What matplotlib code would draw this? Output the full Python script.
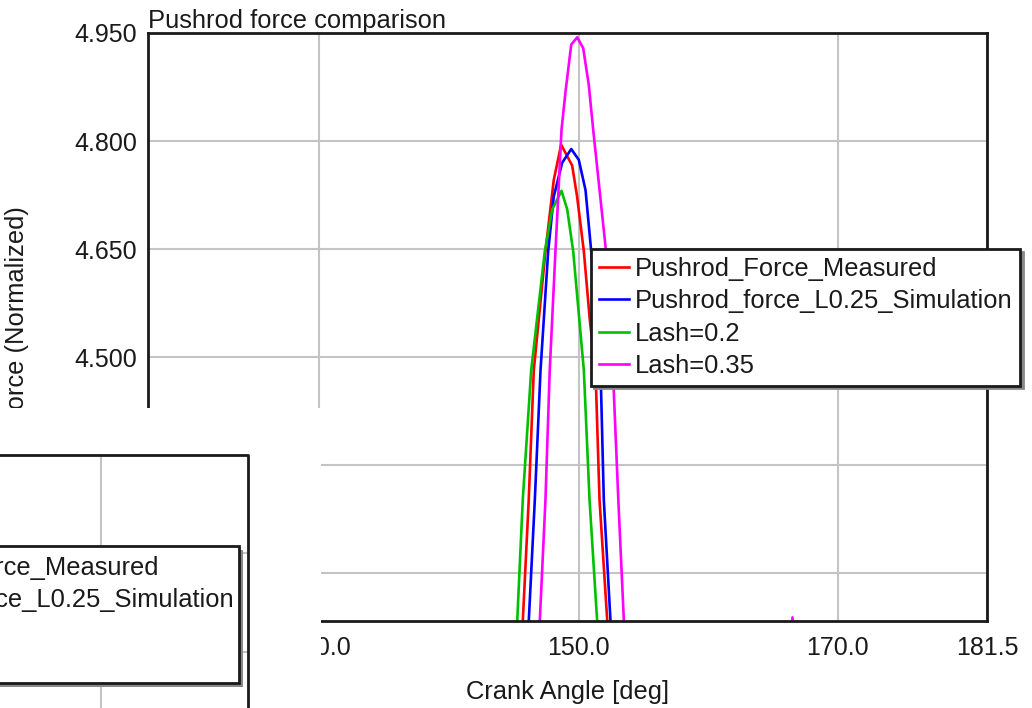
import matplotlib.pyplot as plt
from matplotlib.patches import Rectangle

# Crank angle [deg] and normalized pushrod force around the peak of the lift event
angle_measured = [145.30, 145.70, 146.16, 146.55, 147.45, 148.09, 148.66, 149.13, 149.51, 149.89, 150.41, 150.87, 151.31, 151.62, 152.22, 152.60]
force_measured = [3.950, 4.133, 4.302, 4.482, 4.647, 4.746, 4.795, 4.779, 4.766, 4.723, 4.647, 4.552, 4.482, 4.302, 4.133, 3.950]

angle_sim = [145.80, 146.16, 146.63, 147.07, 147.66, 148.09, 148.74, 149.44, 150.02, 150.54, 150.98, 151.70, 151.95, 152.47, 152.85]
force_sim = [3.950, 4.133, 4.302, 4.482, 4.647, 4.723, 4.770, 4.789, 4.774, 4.732, 4.647, 4.482, 4.302, 4.133, 3.950]

angle_lash02 = [144.90, 145.27, 145.70, 146.35, 147.40, 147.97, 148.69, 149.13, 149.59, 150.41, 150.85, 151.44, 151.85]
force_lash02 = [3.950, 4.133, 4.302, 4.482, 4.647, 4.705, 4.731, 4.705, 4.647, 4.482, 4.302, 4.133, 3.950]

angle_lash035 = [146.70, 147.01, 147.45, 147.78, 148.22, 148.69, 149.00, 149.44, 149.90, 150.36, 150.79, 151.13, 152.08, 152.65, 153.07, 153.50, 153.90,
                 166.20, 166.50, 166.80]
force_lash035 = [3.950, 4.133, 4.302, 4.482, 4.647, 4.816, 4.869, 4.934, 4.944, 4.929, 4.878, 4.816, 4.654, 4.482, 4.302, 4.133, 3.950,
                 3.950, 4.139, 3.950]

series_labels = ["Pushrod_Force_Measured", "Pushrod_force_L0.25_Simulation", "Lash=0.2", "Lash=0.35"]
series_colors = ["#ff0000", "#0000ff", "#00c000", "#ff00ff"]

x_min, x_max = 116.8, 181.5
y_min, y_max = 4.134, 4.950
x_ticks = [130.0, 150.0, 170.0, 181.5]
y_ticks = [4.200, 4.350, 4.500, 4.650, 4.800, 4.950]

W, H = 1032, 708
FS = 18.4
INK = '#1a1a1a'
GRID = '#c4c4c4'

plt.rcParams['font.family'] = ['Liberation Sans', 'DejaVu Sans']
fig = plt.figure(figsize=(W / 100, H / 100), dpi=100)
fig.patch.set_facecolor('white')

ax = fig.add_axes([148 / W, (H - 621) / H, (987 - 148) / W, (621 - 33) / H])
curves = [(angle_measured, force_measured), (angle_sim, force_sim),
          (angle_lash02, force_lash02), (angle_lash035, force_lash035)]
for (xs, ys), lab, col in zip(curves, series_labels, series_colors):
    ax.plot(xs, ys, color=col, lw=1.9, label=lab)

ax.set_xlim(x_min, x_max)
ax.set_ylim(y_min, y_max)
ax.set_xticks(x_ticks)
ax.set_xticklabels([f"{v:.1f}" for v in x_ticks])
ax.set_yticks(y_ticks)
ax.set_yticklabels([f"{v:.3f}" for v in y_ticks])
ax.tick_params(length=0, labelsize=18, colors=INK)
ax.tick_params(axis='y', pad=8)
ax.tick_params(axis='x', pad=11)
ax.grid(True, color=GRID, lw=1.5)
ax.set_axisbelow(True)
for s in ax.spines.values():
    s.set_color(INK)
    s.set_linewidth(2)

ax.set_title("Pushrod force comparison", loc='left', fontsize=FS, pad=2, color=INK)
ax.set_xlabel("Crank Angle [deg]", fontsize=FS, labelpad=14, color=INK)
ax.set_ylabel("Force (Normalized)", fontsize=FS, color=INK)
ax.yaxis.set_label_coords(-0.142, 0.52)

leg = ax.legend(loc='upper left', bbox_to_anchor=((591 - 148) / 839, (621 - 249) / 588),
                borderaxespad=0, fontsize=FS, fancybox=False, shadow={'color': '#888888', 'alpha': 1},
                framealpha=1, edgecolor=INK, handlelength=1.2, handletextpad=0.2,
                labelspacing=0.33, borderpad=0.3)
leg.get_frame().set_linewidth(2)
for t in leg.get_texts():
    t.set_color(INK)

# second plot window overlapping the lower-left corner
ov = fig.add_axes([0, 0, 321 / W, 300 / H], zorder=5)
ov.set_xlim(0, 321)
ov.set_ylim(708, 408)
ov.set_axis_off()
ov.add_patch(Rectangle((0, 0), 1, 1, transform=ov.transAxes, facecolor='white', edgecolor='none', zorder=0))
ov.plot([100.7, 100.7], [455, 708], color=GRID, lw=1.5, zorder=1)
for gy in (553, 652):
    ov.plot([0, 248], [gy, gy], color=GRID, lw=1.5, zorder=1)
ov.plot([-5, 248, 248], [455, 455, 712], color=INK, lw=2, zorder=2, clip_on=True)
ov.add_patch(Rectangle((-20 + 4, 545.7 + 4), 258.7, 137.3, facecolor='#888888', edgecolor='none', zorder=3))
ov.add_patch(Rectangle((-20, 545.7), 258.7, 137.3, facecolor='white', edgecolor=INK, lw=2, zorder=4))
for lab, ty in zip(series_labels[:2], (568, 600)):
    ov.text(-143, ty, lab, fontsize=FS, va='center', ha='left', clip_on=True, zorder=5, color=INK)

fig.savefig("out.png", dpi=100)
